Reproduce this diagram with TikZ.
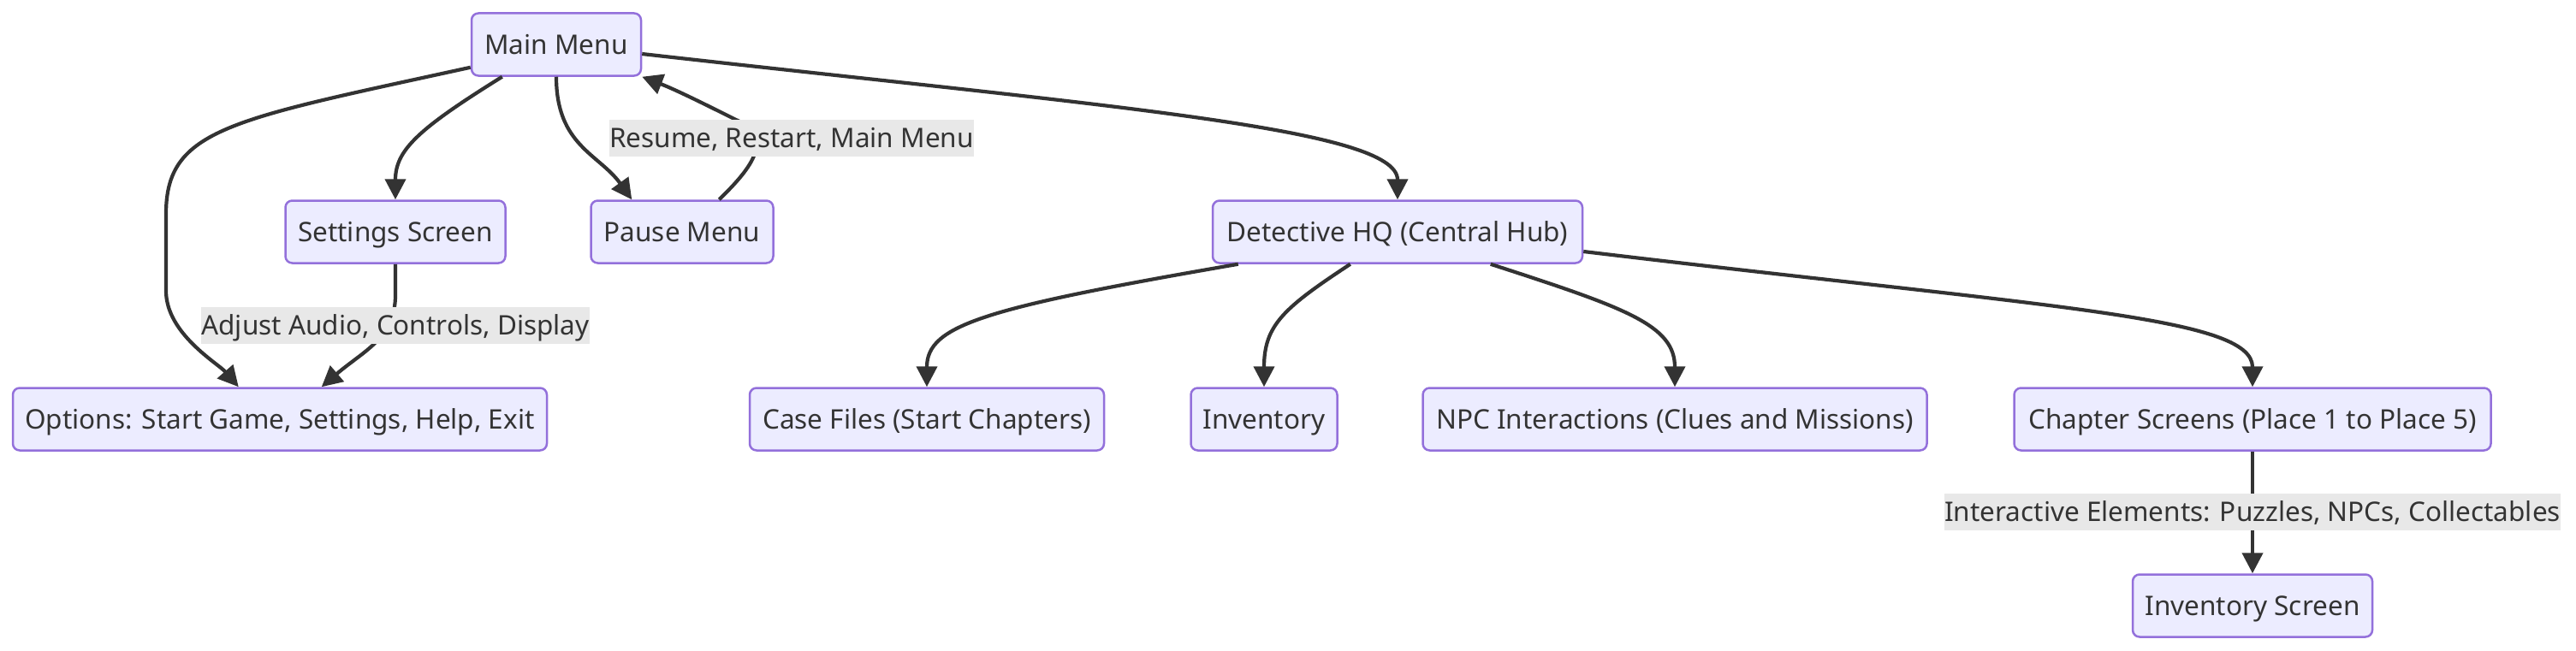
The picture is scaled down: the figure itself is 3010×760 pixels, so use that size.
\documentclass[tikz,border=0pt]{standalone}
\usepackage{fontspec}
\setmainfont{Noto Sans}
\usetikzlibrary{arrows.meta,calc}
\definecolor{nodefill}{HTML}{ECECFF}
\definecolor{nodeline}{HTML}{9370DB}
\definecolor{ink}{HTML}{333333}
\definecolor{lblfill}{HTML}{E8E8E8}
\tikzset{
  box/.style={draw=nodeline, fill=nodefill, line width=2.5pt, rounded corners=8pt,
    text=ink, minimum height=73pt, inner sep=0pt, text height=22.5pt, text depth=0pt,
    font=\fontsize{31.5}{38}\selectfont},
  lbl/.style={fill=lblfill, text=ink, inner sep=0pt, minimum height=43pt,
    text height=22.5pt, text depth=0pt, font=\fontsize{31.5}{38}\selectfont},
  edge/.style={draw=ink, line width=4.2pt, -{Triangle[length=24pt,width=24pt]}}
}
\begin{document}
\begin{tikzpicture}[x=1pt,y=-1pt]
\useasboundingbox[fill=white] (0,0) rectangle (3010,760);
% nodes
\node[box, minimum width=198pt] (main) at (650,52) {Main Menu};
\node[box, minimum width=257pt] (settings) at (462,271) {Settings Screen};
\node[box, minimum width=213pt] (pause) at (797,271) {Pause Menu};
\node[box, minimum width=432pt] (hq) at (1633,271) {Detective HQ (Central Hub)};
\node[box, minimum width=624pt] (options) at (327,490) {Options: Start Game, Settings, Help, Exit};
\node[box, minimum width=414pt] (case) at (1083,490) {Case Files (Start Chapters)};
\node[box, minimum width=171pt] (inv) at (1477,490) {Inventory};
\node[box, minimum width=589pt] (npc) at (1957,490) {NPC Interactions (Clues and Missions)};
\node[box, minimum width=557pt] (chapter) at (2632,490) {Chapter Screens (Place 1 to Place 5)};
\node[box, minimum width=280pt] (invscreen) at (2632,708) {Inventory Screen};
% edges
\draw[edge] ($(main.south west)+(0,-11)$) .. controls (270,140) and (194,150) .. (194,250)
  -- (194,340) .. controls (194,390) and (255,425) .. ($(options.north west)+(265,0)$);
\draw[edge] ($(main.south west)+(37,0)$) .. controls (490,150) and (462,175) .. (settings.north);
\draw[edge] (main.south) .. controls (650,170) and (700,180) .. ($(pause.north west)+(49,0)$);
\draw[edge] ($(pause.north west)+(151,0)$) .. controls (880,195) and (905,160) .. (860,140)
  .. controls (830,125) and (790,105) .. (main.south east);
\draw[edge] ($(main.east)+(0,11)$) .. controls (1300,125) and (1633,150) .. (hq.north);
\draw[edge] (settings.south) -- (462,345) .. controls (462,395) and (425,410) .. ($(options.north west)+(362,0)$);
\draw[edge] ($(hq.south west)+(31,0)$) .. controls (1150,360) and (1083,380) .. (case.north);
\draw[edge] ($(hq.south west)+(162,0)$) .. controls (1500,360) and (1477,380) .. (inv.north);
\draw[edge] ($(hq.south west)+(326,0)$) .. controls (1900,360) and (1957,380) .. (npc.north);
\draw[edge] ($(hq.east)+(0,23)$) .. controls (2400,360) and (2632,370) .. (chapter.north);
\draw[edge] (chapter.south) -- (invscreen.north);
% edge labels
\node[lbl] (l1) at (925,161) {Resume, Restart, Main Menu};
\node[lbl] (l2) at (462,380) {Adjust Audio, Controls, Display};
\node[lbl] (l3) at (2632,598) {Interactive Elements: Puzzles, NPCs, Collectables};
\end{tikzpicture}
\end{document}
